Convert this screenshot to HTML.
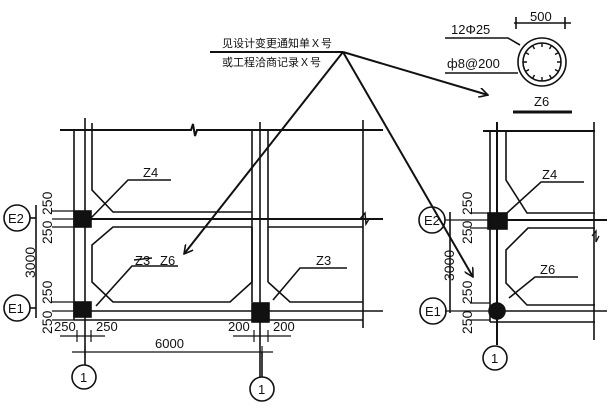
<!DOCTYPE html>
<html><head><meta charset="utf-8"><style>body{margin:0;background:#fff}svg{display:block}text{font-family:"Liberation Sans","Noto Sans CJK SC",sans-serif;fill:#111}</style></head><body>
<svg width="613" height="413" viewBox="0 0 613 413" xmlns="http://www.w3.org/2000/svg">
<defs><marker id="ar" markerWidth="10" markerHeight="10" refX="9" refY="5" orient="auto" markerUnits="userSpaceOnUse"><path d="M0,0 L9,5 L0,10" fill="none" stroke="#111" stroke-width="1.6"/></marker></defs>
<g stroke="#111" stroke-width="1.6" fill="none">
<line x1="210" y1="52" x2="343" y2="52" stroke-width="2"/>
<line x1="343" y1="52" x2="488" y2="95" stroke-width="2" marker-end="url(#ar)"/>
<line x1="343" y1="52" x2="184" y2="254" stroke-width="2" marker-end="url(#ar)"/>
<line x1="343" y1="52" x2="473" y2="277" stroke-width="2" marker-end="url(#ar)"/>
<path d="M60,130 L191,130 L193,124 L195,136 L197,130 L383,130" stroke-width="2"/>
<line x1="74" y1="130" x2="74" y2="320"/>
<line x1="85" y1="118" x2="85" y2="365"/>
<path d="M92,123 L92,190 L113,212 L252,212"/>
<line x1="90" y1="219" x2="383" y2="219" stroke-width="2"/>
<path d="M252,227 L113,227 L92,245 L92,282 L113,302 L230,302 L252,282 L252,227"/>
<line x1="252" y1="130" x2="252" y2="302"/>
<line x1="260" y1="122" x2="260" y2="377"/>
<line x1="268" y1="130" x2="268" y2="282"/>
<path d="M268,282 L290,302 L363,302"/>
<path d="M268,227 L363,227"/>
<line x1="363" y1="120" x2="363" y2="328"/>
<path d="M360,219 L365,213 L366,224 L369,219" stroke-width="1.4"/>
<line x1="85" y1="311" x2="383" y2="311"/>
<line x1="74" y1="320" x2="363" y2="320"/>
<rect x="74" y="211" width="17" height="16" fill="#111"/>
<rect x="74" y="302" width="17" height="15" fill="#111"/>
<rect x="252" y="303" width="17" height="19" fill="#111"/>
<line x1="36" y1="205" x2="36" y2="318"/>
<line x1="30" y1="218" x2="36" y2="218"/>
<line x1="30" y1="308" x2="36" y2="308"/>
<g stroke-width="1.2"><line x1="52" y1="211" x2="74" y2="211"/><line x1="52" y1="219" x2="74" y2="219"/><line x1="52" y1="227" x2="74" y2="227"/>
<line x1="52" y1="302" x2="74" y2="302"/><line x1="52" y1="311" x2="74" y2="311"/><line x1="52" y1="320" x2="74" y2="320"/></g>
<line x1="60" y1="336" x2="105" y2="336" stroke-width="1.2"/>
<line x1="233" y1="336" x2="291" y2="336" stroke-width="1.2"/>
<line x1="72" y1="352" x2="273" y2="352" stroke-width="1.2"/>
<g stroke-width="1.2"><line x1="77" y1="330" x2="77" y2="342"/><line x1="91" y1="330" x2="91" y2="342"/><line x1="254" y1="330" x2="254" y2="342"/><line x1="268" y1="330" x2="268" y2="342"/><line x1="85" y1="346" x2="85" y2="358"/><line x1="262" y1="346" x2="262" y2="358"/></g>
<circle cx="17" cy="218" r="13"/><circle cx="17" cy="308" r="13"/>
<circle cx="84" cy="377" r="12"/><circle cx="262" cy="389" r="12"/>
<line x1="262" y1="352" x2="262" y2="377"/>
<path d="M171,180 L128,180 L91,218"/>
<path d="M178,266 L132,266 L96,306"/>
<path d="M347,268 L300,268 L273,300"/>
<circle cx="542" cy="62" r="24"/><circle cx="542" cy="62" r="19"/>
<g stroke-width="1.4">
<path d="M542,43 v4 M551.5,45.5 l-2,3.5 M558.5,52.5 l-3.5,2 M561,62 h-4 M558.5,71.5 l-3.5,-2 M551.5,78.5 l-2,-3.5 M542,81 v-4 M532.5,78.5 l2,-3.5 M525.5,71.5 l3.5,-2 M523,62 h4 M525.5,52.5 l3.5,2 M532.5,45.5 l2,3.5"/>
</g>
<line x1="514" y1="23" x2="571" y2="23" stroke-width="1.4"/>
<line x1="516" y1="17" x2="516" y2="29"/><line x1="565" y1="17" x2="565" y2="29"/>
<path d="M445,38 L508,38 L520,45"/>
<line x1="445" y1="73" x2="518" y2="73"/>
<line x1="513" y1="112" x2="572" y2="112" stroke-width="3"/>
<line x1="483" y1="131" x2="595" y2="131" stroke-width="2"/>
<line x1="490" y1="131" x2="490" y2="322"/>
<line x1="497" y1="122" x2="497" y2="345" stroke-width="2"/>
<path d="M506,131 L506,180 L527,213 L595,213"/>
<line x1="490" y1="220" x2="607" y2="220" stroke-width="2"/>
<path d="M595,228 L528,228 L506,250 L506,283 L527,305 L595,305"/>
<line x1="594" y1="122" x2="594" y2="340"/>
<path d="M592,236 L596,231 L596,242 L599,236" stroke-width="1.3"/>
<line x1="490" y1="311" x2="607" y2="311"/>
<line x1="490" y1="322" x2="595" y2="322"/>
<rect x="488" y="213" width="19" height="16" fill="#111"/>
<circle cx="497" cy="311" r="8" fill="#111"/>
<circle cx="495" cy="358" r="12"/>
<circle cx="432" cy="220" r="13"/><circle cx="433" cy="311" r="13"/>
<line x1="450" y1="212" x2="450" y2="313"/>
<g stroke-width="1.2"><line x1="470" y1="213" x2="490" y2="213"/><line x1="445" y1="220" x2="490" y2="220"/><line x1="470" y1="228" x2="490" y2="228"/>
<line x1="470" y1="303" x2="490" y2="303"/><line x1="445" y1="311" x2="490" y2="311"/><line x1="470" y1="320" x2="490" y2="320"/></g>
<path d="M584,182 L541,182 L507,213"/>
<path d="M578,277 L535,277 L509,298"/>
</g>
<g font-size="13">
<text x="222" y="47" font-size="11">见设计变更通知单Ｘ号</text>
<text x="222" y="66" font-size="11">或工程洽商记录Ｘ号</text>
<text x="143" y="177">Z4</text>
<text x="135" y="265">Z3</text><line x1="134" y1="260" x2="152" y2="258" stroke="#111" stroke-width="1.4"/>
<text x="160" y="265">Z6</text>
<text x="316" y="265">Z3</text>
<text x="155" y="348">6000</text>
<text x="54" y="331">250</text><text x="96" y="331">250</text>
<text x="228" y="331">200</text><text x="273" y="331">200</text>
<text x="8" y="223">E2</text><text x="8" y="313">E1</text>
<text x="80" y="382">1</text><text x="258" y="394">1</text>
<g font-size="14">
<text x="52" y="215" transform="rotate(-90 52 215)">250</text>
<text x="52" y="244" transform="rotate(-90 52 244)">250</text>
<text x="52" y="304" transform="rotate(-90 52 304)">250</text>
<text x="52" y="334" transform="rotate(-90 52 334)">250</text>
<text x="35" y="278" transform="rotate(-90 35 278)">3000</text>
<text x="472" y="215" transform="rotate(-90 472 215)">250</text>
<text x="472" y="244" transform="rotate(-90 472 244)">250</text>
<text x="472" y="304" transform="rotate(-90 472 304)">250</text>
<text x="472" y="334" transform="rotate(-90 472 334)">250</text>
<text x="454" y="281" transform="rotate(-90 454 281)">3000</text>
</g>
<text x="530" y="21">500</text>
<text x="451" y="34">12Φ25</text>
<text x="447" y="68">ф8@200</text>
<text x="534" y="106">Z6</text>
<text x="542" y="179">Z4</text>
<text x="540" y="274">Z6</text>
<text x="424" y="225">E2</text><text x="425" y="316">E1</text>
<text x="491" y="363">1</text>
</g>
</svg>
</body></html>
